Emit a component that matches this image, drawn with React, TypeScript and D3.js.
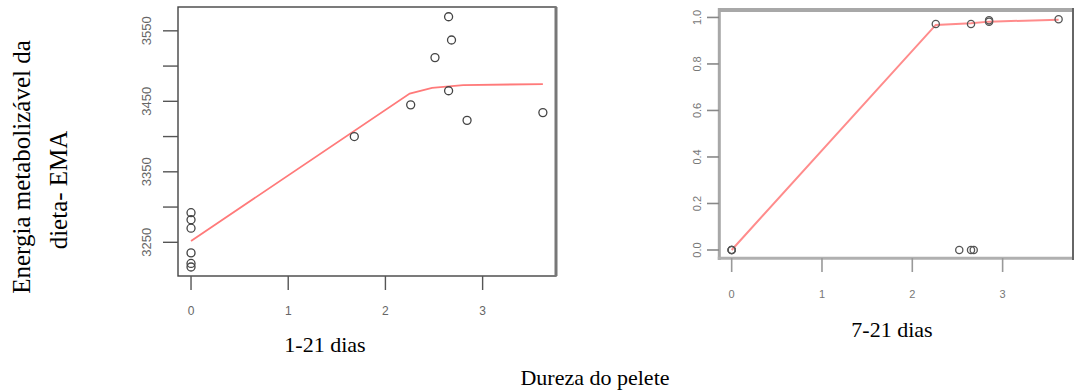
import React from "react";
import * as d3 from "d3";

// ---- data ----
const leftX = [0, 0, 0, 0, 0, 0, 1.68, 2.26, 2.51, 2.65, 2.68, 2.65, 2.84, 3.62];
const leftY = [3292, 3282, 3270, 3235, 3220, 3215, 3400, 3445, 3512, 3570, 3537, 3465, 3423, 3434];
const leftFitX = [0, 2.25, 2.48, 2.8, 3.62];
const leftFitY = [3252, 3461, 3469, 3473, 3474.5];

const rightX = [0, 0, 0, 2.26, 2.65, 2.85, 2.85, 3.62, 2.52, 2.65, 2.68];
const rightY = [0, 0, 0, 0.972, 0.972, 0.982, 0.988, 0.992, 0, 0, 0];
const rightFitX = [0, 2.26, 2.65, 2.85, 3.62];
const rightFitY = [0, 0.968, 0.975, 0.982, 0.99];

const xTicks = [0, 1, 2, 3];
const leftYTicks = [3250, 3300, 3350, 3400, 3450, 3500, 3550];
const leftYLabels = [3250, 3350, 3450, 3550];
const rightYTicks = [0, 0.2, 0.4, 0.6, 0.8, 1.0];

const yTitle1 = "Energia metabolizável  da";
const yTitle2 = "dieta- EMA";
const leftCaption = "1-21 dias";
const rightCaption = "7-21 dias";
const xTitle = "Dureza do pelete";

export default function App() {
  // left panel scales
  const lx = d3.scaleLinear().domain([-0.134, 3.755]).range([178, 556]);
  const ly = d3.scaleLinear().domain([3202.2, 3583.8]).range([276, 7]);
  // right panel scales
  const rx = d3.scaleLinear().domain([-0.137, 3.776]).range([719.3, 1072.7]);
  const ry = d3.scaleLinear().domain([-0.0357, 1.032]).range([258.3, 10]);

  const leftLine = d3
    .line<number>()
    .x((_, i) => lx(leftFitX[i]))
    .y((d) => ly(d));
  const rightLine = d3
    .line<number>()
    .x((_, i) => rx(rightFitX[i]))
    .y((d) => ry(d));

  const tickFont = "Liberation Sans, Arial, sans-serif";
  const serif = "Liberation Serif, Times New Roman, serif";

  return (
    <svg
      width={1078}
      height={392}
      style={{ position: "absolute", left: 0, top: 0, background: "#fff" }}
    >
      {/* Left panel */}
      <g>
        <rect x={178} y={7} width={378} height={269} fill="none" stroke="#444" strokeWidth={1.4} />
        <line x1={556} x2={556} y1={7} y2={276} stroke="#777" strokeWidth={3} />
        {leftYTicks.map((t) => (
          <line key={t} x1={163} x2={178} y1={ly(t)} y2={ly(t)} stroke="#555" strokeWidth={1.4} />
        ))}
        {leftYLabels.map((t) => (
          <text
            key={t}
            transform={`translate(151,${ly(t)}) rotate(-90)`}
            textAnchor="middle"
            fontFamily={tickFont}
            fontSize={13}
            fill="#666"
          >
            {t}
          </text>
        ))}
        {xTicks.map((t) => (
          <g key={t}>
            <line x1={lx(t)} x2={lx(t)} y1={276} y2={290} stroke="#555" strokeWidth={1.4} />
            <text x={lx(t)} y={315} textAnchor="middle" fontFamily={tickFont} fontSize={12} fill="#666">
              {t}
            </text>
          </g>
        ))}
        <path d={leftLine(leftFitY) || ""} fill="none" stroke="#ff7a7a" strokeWidth={1.8} />
        {leftX.map((x, i) => (
          <circle key={i} cx={lx(x)} cy={ly(leftY[i])} r={4} fill="none" stroke="#444" strokeWidth={1.3} />
        ))}
      </g>

      {/* Right panel */}
      <g>
        <line x1={719.3} x2={1072.7} y1={10} y2={10} stroke="#a8a8a8" strokeWidth={4} />
        <line x1={719.3} x2={719.3} y1={8} y2={260} stroke="#a8a8a8" strokeWidth={3} />
        <line x1={717.8} x2={1072.7} y1={258.3} y2={258.3} stroke="#b0b0b0" strokeWidth={3} />
        <line x1={1073} x2={1073} y1={8} y2={260} stroke="#666" strokeWidth={2} />
        {rightYTicks.map((t) => (
          <g key={t}>
            <line x1={707} x2={719} y1={ry(t)} y2={ry(t)} stroke="#888" strokeWidth={1.6} />
            <text
              transform={`translate(701,${ry(t)}) rotate(-90)`}
              textAnchor="middle"
              fontFamily={tickFont}
              fontSize={11}
              fill="#777"
            >
              {t.toFixed(1)}
            </text>
          </g>
        ))}
        {xTicks.map((t) => (
          <g key={t}>
            <line x1={rx(t)} x2={rx(t)} y1={258} y2={272} stroke="#999" strokeWidth={1.6} />
            <text x={rx(t)} y={298} textAnchor="middle" fontFamily={tickFont} fontSize={11} fill="#777">
              {t}
            </text>
          </g>
        ))}
        <path d={rightLine(rightFitY) || ""} fill="none" stroke="#ff8c8c" strokeWidth={2} />
        {rightX.map((x, i) => (
          <circle key={i} cx={rx(x)} cy={ry(rightY[i])} r={3.6} fill="none" stroke="#555" strokeWidth={1.3} />
        ))}
      </g>

      {/* Titles */}
      <text
        transform="translate(30,167) rotate(-90)"
        textAnchor="middle"
        fontFamily={serif}
        fontSize={25}
        fill="#000"
      >
        {yTitle1}
      </text>
      <text
        transform="translate(67,190) rotate(-90)"
        textAnchor="middle"
        fontFamily={serif}
        fontSize={25}
        fill="#000"
      >
        {yTitle2}
      </text>
      <text x={325} y={352} textAnchor="middle" fontFamily={serif} fontSize={22} fill="#000">
        {leftCaption}
      </text>
      <text x={892} y={337} textAnchor="middle" fontFamily={serif} fontSize={22} fill="#000">
        {rightCaption}
      </text>
      <text x={595} y={385} textAnchor="middle" fontFamily={serif} fontSize={22} fill="#000">
        {xTitle}
      </text>
    </svg>
  );
}
